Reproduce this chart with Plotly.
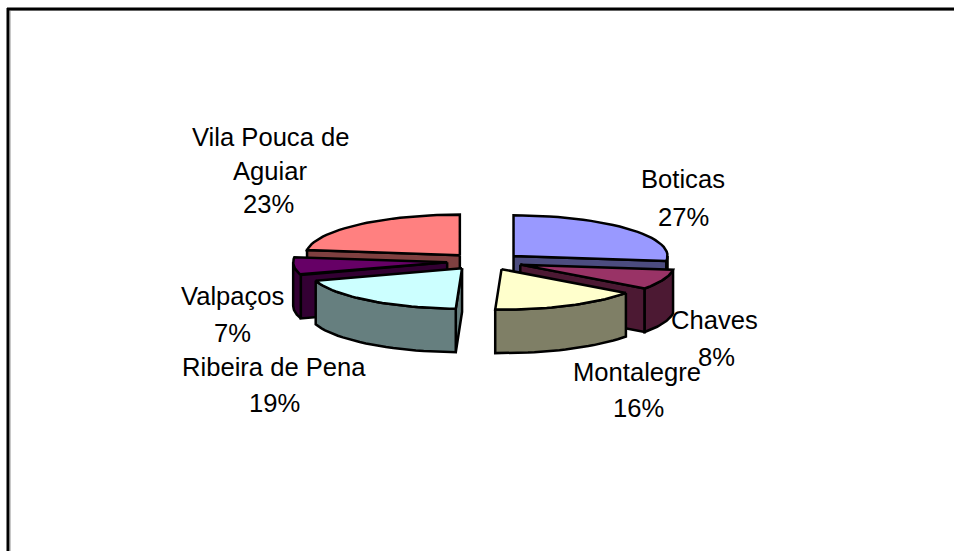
import numpy as np
import plotly.graph_objects as go

# --- data ---
names = ["Boticas", "Chaves", "Montalegre", "Ribeira de Pena", "Valpaços", "Vila Pouca de Aguiar"]
values = [27.0, 8.0, 15.6, 19.3, 7.0, 23.0]

# --- styling ---
top_colors = ["#9999FF", "#993366", "#FFFFCC", "#CCFFFF", "#660066", "#FF8080"]
side_colors = ["#4C4C7F", "#4C1933", "#7F7F66", "#667F7F", "#330033", "#7F4040"]
label_lines = [["Boticas"], ["Chaves"], ["Montalegre"], ["Ribeira de Pena"], ["Valpaços"], ["Vila Pouca de", "Aguiar"]]
label_pos = [
    [(683, 179), (683, 217)],
    [(714, 320), (716, 357)],
    [(637, 372), (638, 408)],
    [(274, 367), (274, 403)],
    [(232, 296), (232, 333)],
    [(270, 137), (270, 171), (268, 204)],
]
W, H = 954, 551
CX, CY = 485.0, 261.5
RX, RY, DEPTH = 154.0, 40.5, 43.5
PULL_X, PULL_Y = 38.0, 8.5
FONT = "Liberation Sans, Arial, sans-serif"
FONT_SIZE = 25.6

fig = go.Figure()


def poly(xs, ys, color):
    fig.add_trace(go.Scatter(
        x=np.r_[xs, xs[0]], y=np.r_[ys, ys[0]], mode="lines", fill="toself",
        fillcolor=color, line=dict(color="black", width=2.5), hoverinfo="skip", showlegend=False,
    ))


total = sum(values)
cum = np.cumsum([0] + values) / total * 2 * np.pi
wedges = []
for i in range(len(values)):
    a0, a1 = cum[i], cum[i + 1]
    mid = (a0 + a1) / 2
    wedges.append(dict(i=i, a0=a0, a1=a1,
                       ax=CX + PULL_X * np.sin(mid), ay=CY - PULL_Y * np.cos(mid)))


def draw(w):
    a0, a1, ax, ay, i = w["a0"], w["a1"], w["ax"], w["ay"], w["i"]
    px = lambda a: ax + RX * np.sin(a)
    py = lambda a: ay - RY * np.cos(a)
    # radial cut faces that look toward the viewer
    for a, seen in ((a0, np.pi < a0 < 2 * np.pi), (a1, 0 < a1 < np.pi)):
        if seen:
            poly(np.array([ax, px(a), px(a), ax]),
                 np.array([ay, py(a), py(a) + DEPTH, ay + DEPTH]), side_colors[i])
    # outer rim, lower half of the ellipse only
    lo, hi = max(a0, np.pi / 2), min(a1, 3 * np.pi / 2)
    if hi > lo:
        t = np.linspace(lo, hi, 24)
        poly(np.r_[px(t), px(t)[::-1]], np.r_[py(t), py(t)[::-1] + DEPTH], side_colors[i])
    # top
    t = np.linspace(a0, a1, 30)
    poly(np.r_[ax, px(t)], np.r_[ay, py(t)], top_colors[i])


# back-to-front: left group, then right group
for k in (5, 4, 3, 0, 1, 2):
    draw(wedges[k])

annotations = []
for i, v in enumerate(values):
    lines = label_lines[i] + [f"{round(v / total * 100)}%"]
    for line, (x, y) in zip(lines, label_pos[i]):
        annotations.append(dict(x=x, y=y, xref="x", yref="y", text=line, showarrow=False,
                                xanchor="center", yanchor="middle",
                                font=dict(family=FONT, size=FONT_SIZE, color="black")))

frame = [
    dict(type="line", x0=10, x1=W, y0=10.5, y1=10.5, line=dict(color="#c8c8c8", width=1)),
    dict(type="line", x0=10.5, x1=10.5, y0=10, y1=H, line=dict(color="#c8c8c8", width=1)),
    dict(type="line", x0=7, x1=W, y0=9, y1=9, line=dict(color="black", width=3)),
    dict(type="line", x0=8, x1=8, y0=8, y1=H, line=dict(color="black", width=3)),
]

fig.update_layout(
    width=W, height=H, margin=dict(l=0, r=0, t=0, b=0),
    paper_bgcolor="white", plot_bgcolor="white", showlegend=False,
    xaxis=dict(range=[0, W], visible=False, fixedrange=True),
    yaxis=dict(range=[H, 0], visible=False, fixedrange=True),
    annotations=annotations, shapes=frame,
)
fig.write_html("out.html", config=dict(displayModeBar=False),
               post_script="document.body.style.margin='0';document.body.style.overflow='hidden';")
